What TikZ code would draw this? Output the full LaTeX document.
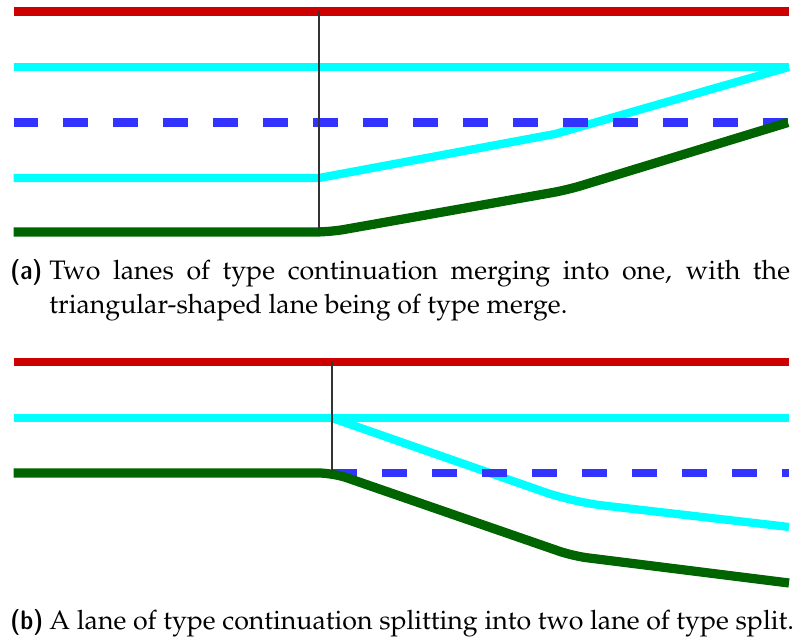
\documentclass[tikz,border=0pt]{standalone}
\usepackage[T1]{fontenc}
\usepackage{mathpazo}
\definecolor{lanered}{RGB}{204,0,0}
\definecolor{lanecyan}{RGB}{0,255,255}
\definecolor{laneblue}{RGB}{51,51,255}
\definecolor{lanegreen}{RGB}{0,100,0}
\tikzset{
  roadedge/.style={line width=3.4pt, draw=lanered},
  lanecenter/.style={line width=3.4pt, draw=lanecyan},
  lanedivider/.style={line width=3.6pt, draw=laneblue, dash pattern=on 10.285pt off 10.285pt},
  laneborder/.style={line width=3.8pt, draw=lanegreen},
  junctionmark/.style={line width=0.6pt, draw=black!80},
  sublabel/.style={anchor=base west, inner sep=0pt, font=\fontsize{11}{13.6}\usefont{TU}{lmss}{sbc}{n}},
  captiontext/.style={anchor=base west, inner sep=0pt, align=justify, font=\fontsize{11}{13.6}\selectfont}
}
\begin{document}
\begin{tikzpicture}[x=0.01446cm, y=-0.01446cm]
\useasboundingbox (0,0) rectangle (798,641);

% ---------- (a) merge ----------
\coordinate (aL1) at (13.5,11.5);   \coordinate (aR1) at (789,11.5);
\coordinate (aL2) at (13.5,67);     \coordinate (aR2) at (789,67);
\coordinate (aL3) at (13.5,122.5);  \coordinate (aR3) at (789,122.5);
\coordinate (aL4) at (13.5,178);    \coordinate (aK4) at (319,178);
\coordinate (aM4) at (555,134);
\coordinate (aL5) at (13.5,232);    \coordinate (aK5) at (330,232);
\coordinate (aM5) at (567,190);
\coordinate (aTop) at (319,11.5);   \coordinate (aBot) at (319,230);

\draw[roadedge] (aL1) -- (aR1);
\draw[lanecenter] (aL2) -- (aR2);
\draw[lanecenter] (aL4) -- (aK4) -- (aM4) [rounded corners=12pt] -- (aR2);
\draw[lanedivider] (aL3) -- (aR3);
\draw[laneborder, rounded corners=6pt] (aL5) -- (aK5) -- (aM5) -- (788,122.5);
\draw[junctionmark] (aTop) -- (aBot);

\node[sublabel] (alab) at (10,280) {(a)};
\node[captiontext, text width=304.8pt] (acap) at (49,280)
  {Two lanes of type continuation merging into one, with the triangular-shaped lane being of type merge.};

% ---------- (b) split ----------
\coordinate (bL1) at (13.5,362);    \coordinate (bR1) at (789,362);
\coordinate (bL2) at (13.5,418);    \coordinate (bR2) at (789,418);
\coordinate (bK2) at (332,418);
\coordinate (bM2) at (573,502);     \coordinate (bE2) at (789,527);
\coordinate (bL3) at (13.5,473);    \coordinate (bK3) at (333,473);
\coordinate (bM3) at (573,556);     \coordinate (bE3) at (789,583);
\coordinate (bD0) at (332,473);     \coordinate (bD1) at (789,473);
\coordinate (bTop) at (332,362);    \coordinate (bBot) at (332,472);

\draw[roadedge] (bL1) -- (bR1);
\draw[lanecenter] (bL2) -- (bR2);
\draw[lanecenter, rounded corners=12pt] (bK2) -- (bM2) -- (bE2);
\draw[lanedivider] (bD0) -- (bD1);
\draw[laneborder, rounded corners=6pt] (bL3) -- (bK3) -- (bM3) [rounded corners=12pt] -- (bE3);
\draw[junctionmark] (bTop) -- (bBot);

\node[sublabel] (blab) at (10,630) {(b)};
\node[captiontext, anchor=base west, align=left] (bcap) at (49,630)
  {A lane of type continuation splitting into two lane of type split.};
\end{tikzpicture}
\end{document}
